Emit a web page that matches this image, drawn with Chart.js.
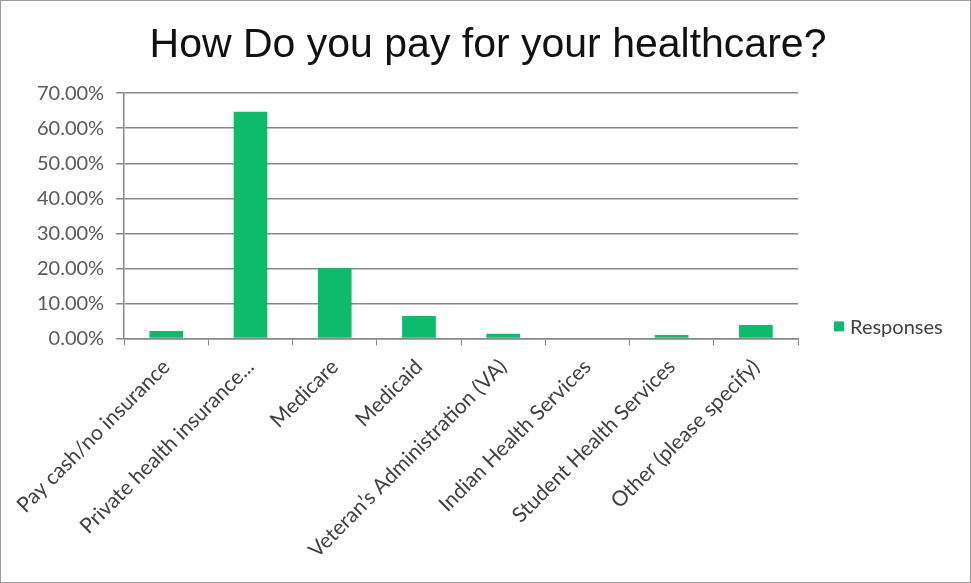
<!DOCTYPE html>
<html>
<head>
<meta charset="utf-8">
<script src="https://cdn.jsdelivr.net/npm/chart.js@4.4.1/dist/chart.umd.min.js"></script>
<style>
  html, body { margin: 0; padding: 0; background: #fff; }
  #wrap { width: 969px; height: 581px; border: 1px solid #9a9a9a; position: relative; }
</style>
</head>
<body>
<div id="wrap"><canvas id="barChart" width="969" height="581"></canvas></div>
<script>
const titleText = 'How Do you pay for your healthcare?';
const categories = [
    'Pay cash/no insurance',
    'Private health insurance...',
    'Medicare',
    'Medicaid',
    'Veteran\u2019s Administration (VA)',
    'Indian Health Services',
    'Student Health Services',
    'Other (please specify)'
];
const responses = [2.1, 64.7, 20.0, 6.4, 1.3, 0.0, 1.0, 3.8];
const seriesName = 'Responses';
const yTicks = [0, 10, 20, 30, 40, 50, 60, 70];

const green = '#0dbb6b';
const labelFont = 'Lato';

// legend drawn next to the bottom of the plot, like the Excel original
const sideLegend = {
    id: 'sideLegend',
    afterDraw(chart) {
        const c = chart.ctx;
        const ds = chart.data.datasets[0];
        const area = chart.chartArea;
        const x = area.right + 36;
        const y = area.bottom - 12;
        c.save();
        c.fillStyle = ds.backgroundColor;
        c.fillRect(x, y - 5, 10, 10);
        c.fillStyle = '#404040';
        c.font = '20px ' + labelFont;
        c.textBaseline = 'middle';
        c.fillText(ds.label, x + 16, y + 1);
        c.restore();
    }
};

window.onload = function() {
    const ctx = document.getElementById('barChart');
    new Chart(ctx, {
        type: 'bar',
        plugins: [sideLegend],
        data: {
            labels: categories,
            datasets: [{
                label: seriesName,
                data: responses,
                backgroundColor: green,
                borderWidth: 0,
                barPercentage: 0.4,
                categoryPercentage: 1.0
            }]
        },
        options: {
            responsive: false,
            animation: false,
            layout: {
                padding: { left: 24, right: 19, top: 0, bottom: 10 }
            },
            plugins: {
                legend: { display: false },
                tooltip: { enabled: false },
                title: {
                    display: true,
                    text: titleText,
                    color: '#111',
                    font: { family: 'Liberation Sans', size: 41, weight: 'normal' },
                    padding: { top: 20, bottom: 23 }
                }
            },
            scales: {
                x: {
                    grid: {
                        display: true,
                        drawOnChartArea: false,
                        offset: true,
                        color: '#888',
                        tickLength: 7
                    },
                    border: { color: '#888', width: 1.5 },
                    ticks: {
                        autoSkip: false,
                        minRotation: 45,
                        maxRotation: 45,
                        color: '#404040',
                        padding: 9,
                        font: { family: labelFont, size: 21 }
                    }
                },
                y: {
                    min: 0,
                    max: 70,
                    afterBuildTicks: (axis) => {
                        axis.ticks = yTicks.map(v => ({ value: v }));
                    },
                    grid: {
                        color: '#888',
                        lineWidth: 1.5,
                        tickLength: 8
                    },
                    border: { color: '#888', width: 1.5 },
                    ticks: {
                        color: '#595959',
                        padding: 12,
                        font: { family: labelFont, size: 20 },
                        callback: (value) => value.toFixed(2) + '%'
                    }
                },
                // empty axis that only keeps room for the legend on the right
                side: {
                    position: 'right',
                    display: true,
                    grid: { display: false },
                    border: { display: false },
                    ticks: { display: false },
                    afterFit: (axis) => { axis.width = 153; }
                }
            }
        }
    });
};
</script>
</body>
</html>
